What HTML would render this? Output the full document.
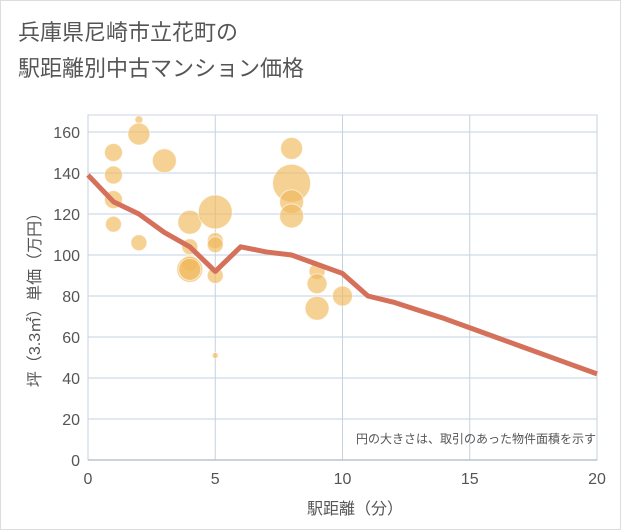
<!DOCTYPE html>
<html><head><meta charset="utf-8"><style>
body{margin:0;background:#fff;}
svg{display:block;font-family:"Liberation Sans","Noto Sans CJK JP",sans-serif;}
</style></head><body>
<svg id="c" width="621" height="530" viewBox="0 0 621 530">
<rect x="0.5" y="0.5" width="620" height="529" fill="#fff" stroke="#ddd"/>
<text x="18" y="40" font-size="22" fill="#555">兵庫県尼崎市立花町の</text>
<text x="18" y="76" font-size="22" fill="#555">駅距離別中古マンション価格</text>
<g id="grid"></g>
<g id="bubbles"></g>
<g id="line"></g>
<g id="axes"></g>
<text x="596" y="443" font-size="12" fill="#555" text-anchor="end">円の大きさは、取引のあった物件面積を示す</text>
<text x="355" y="514" font-size="16" fill="#555" text-anchor="middle">駅距離（分）</text>
<text transform="translate(40,296) rotate(-90)" font-size="16" fill="#555" text-anchor="middle">坪（3.3㎡）単価（万円）</text>
</svg>
<script>
const xTicks=[0,5,10,15,20];
const yTicks=[0,20,40,60,80,100,120,140,160];
const bubbleX=[1,1,1,1,2,2,2,3,4,4,4,4,4,5,5,5,5,5,8,8,8,8,9,9,9,10];
const bubbleY=[150,139,127,115,166,159,106,146,116,104,96,93,93,121,107,105,90,51,152,135,126,119,92,86,74,80];
const bubbleR=[9,9,9,8,4,11,8,12,12,8,8,13,11,17,8,8,8,3,11,19,12,12,8,10,12,10];
const lineX=[0,1,2,3,4,5,6,7,8,9,10,11,12,13,14,15,16,17,18,19,20];
const lineY=[139,126,120,111,104,92,104,101.5,100,95.5,91,80,77,73,69,64.5,60,55.5,51,46.5,42];
const X0=88,X1=597,Y0=460,Y1=132;
const sx=v=>X0+(X1-X0)*v/20, sy=v=>Y0-(Y0-Y1)*v/160;
const NS="http://www.w3.org/2000/svg";
function mk(t,a,p){const e=document.createElementNS(NS,t);for(const k in a)e.setAttribute(k,a[k]);p.appendChild(e);return e;}
const grid=document.getElementById('grid'),axes=document.getElementById('axes');
mk('rect',{x:X0,y:115,width:X1-X0,height:Y0-115,fill:'none',stroke:'#ccd6e0'},grid);
yTicks.forEach(v=>{const l=mk('line',{x1:X0,x2:X1,y1:sy(v),y2:sy(v),stroke:'#d6e2ee','stroke-width':1.5},grid);


const t=mk('text',{x:X0-8,y:sy(v)+6,'font-size':16,fill:'#555','text-anchor':'end'},axes);t.textContent=v;

});
xTicks.forEach(v=>{const l=mk('line',{x1:sx(v),x2:sx(v),y1:115,y2:Y0,stroke:'#c6d2de'},grid);


const t=mk('text',{x:sx(v),y:Y0+24,'font-size':16,fill:'#555','text-anchor':'middle'},axes);t.textContent=v;

});
mk('line',{x1:X0,x2:X1,y1:Y0,y2:Y0,stroke:'#aab4be'},axes);
const bg=document.getElementById('bubbles');
bubbleX.forEach((x,i)=>{const c=mk('circle',{cx:sx(x),cy:sy(bubbleY[i]),r:bubbleR[i],fill:'rgba(240,185,90,0.65)',stroke:'rgba(255,255,255,0.6)','stroke-width':1},bg);

});
const pl=mk('polyline',{points:lineX.map((x,i)=>sx(x)+','+sy(lineY[i])).join(' '),fill:'none',stroke:'#d5705a','stroke-width':5,'stroke-linejoin':'round'},document.getElementById('line'));


</script>
</body></html>
